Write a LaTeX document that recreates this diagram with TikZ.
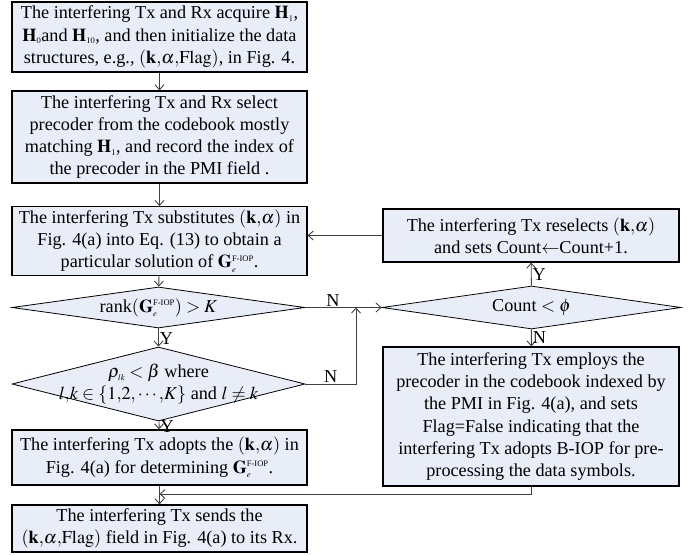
\documentclass[tikz,border=0pt]{standalone}
\usepackage{amsmath}
\usepackage{mathptmx}
\usepackage{fontspec}
\setmainfont{Liberation Serif}
\usetikzlibrary{shapes.geometric, arrows.meta}

\definecolor{boxfill}{RGB}{232,237,247}
\DeclareMathSizes{18.2}{18.2}{8.5}{7}

\begin{document}
\begin{tikzpicture}[x=1pt, y=-1pt]

\tikzset{txt/.style = {font=\fontsize{18.2}{22.2}\selectfont, align=center}}
\tikzset{procbox/.style = {txt, draw, line width=1.2pt, fill=boxfill, inner xsep=2pt, inner ysep=3pt, minimum width=295pt}}
\tikzset{decision/.style = {diamond, draw, line width=0.8pt, fill=boxfill, inner sep=0pt, aspect=7, minimum width=293pt}}
\tikzset{flow/.style = {draw=black!75, line width=0.9pt, -{Straight Barb[length=5pt,width=9pt]}}}
\tikzset{tag/.style = {txt, inner sep=1pt}}

\useasboundingbox (0,0) rectangle (697,556);

% left column
\node[procbox, minimum height=70pt] (init) at (159.5,37)
  {The interfering Tx and Rx acquire $\mathbf{H}_1$,\\
   $\mathbf{H}_0$and $\mathbf{H}_{10}$, and then initialize the data\\
   structures, e.g., $(\mathbf{k}{,}\alpha{,}\mathrm{Flag})$, in Fig. 4.};
\node[procbox, minimum height=92pt] (select) at (159.5,137)
  {The interfering Tx and Rx select\\
   precoder from the codebook mostly\\
   matching $\mathbf{H}_1$, and record the index of\\
   the precoder in the PMI field .};
\node[procbox, minimum height=64pt] (subst) at (159.5,241)
  {The interfering Tx substitutes $(\mathbf{k}{,}\alpha)$ in\\
   Fig. 4(a) into Eq. (13) to obtain a\\
   particular solution of $\mathbf{G}_e^{\text{F-IOP}}$.};
\node[decision, minimum height=41pt] (rank) at (158.5,307.5) {};
\node[txt] (rankt) at (rank) {rank$(\mathbf{G}_e^{\text{F-IOP}}) > K$};
\node[decision, minimum height=74pt] (rho) at (158.5,384) {};
\node[txt] (rhot) at (rho)
  {$\rho_{lk} < \beta$ where\\
   $l{,}k \in \{1{,}2{,}\cdots{,}K\}$ and $l \neq k$};
\node[procbox, minimum height=55pt] (adopt) at (159.5,457.5)
  {The interfering Tx adopts the $(\mathbf{k}{,}\alpha)$ in\\
   Fig. 4(a) for determining $\mathbf{G}_e^{\text{F-IOP}}$.};
\node[procbox, minimum height=47pt] (send) at (159.5,528.5)
  {The interfering Tx sends the\\
   $(\mathbf{k}{,}\alpha{,}\mathrm{Flag})$ field in Fig. 4(a) to its Rx.};

% right column
\node[procbox, minimum height=53pt, minimum width=296pt] (resel) at (531,235.5)
  {The interfering Tx reselects $(\mathbf{k}{,}\alpha)$\\
   and sets Count$\leftarrow$Count+1.};
\node[decision, minimum width=299pt, minimum height=43pt] (count) at (531.5,307.5) {};
\node[txt] (countt) at (count) {Count $< \phi$};
\node[procbox, minimum height=139pt, minimum width=296pt] (employ) at (531,416.5)
  {The interfering Tx employs the\\
   precoder in the codebook indexed by\\
   the PMI in Fig. 4(a), and sets\\
   Flag=False indicating that the\\
   interfering Tx adopts B-IOP for pre-\\
   processing the data symbols.};

\coordinate (join) at (356,307.5);
\coordinate (merge) at (159.5,494);

% edges
\draw[flow] (init) -- (select);
\draw[flow] (select) -- (subst);
\draw[flow] (subst) -- (rank);
\draw[flow] (rank) -- node[tag, right, pos=0.55] {Y} (rho);
\draw[flow] (rho) -- node[tag, right, pos=0.6] {Y} (adopt);
\draw[flow] (adopt) -- (send);
\draw[flow] (rank.east) -- node[tag, above, pos=0.36] {N} (count.west);
\draw[flow] (rho.east) -- node[tag, above] {N} (rho.east -| join) -- (join);
\draw[flow] (count) -- node[tag, right] {Y} (resel);
\draw[flow] (count) -- node[tag, right] {N} (employ);
\draw[flow] (resel.west) -- (resel.west -| subst.east);
\draw[flow] (employ.south) |- (merge);

\end{tikzpicture}
\end{document}
